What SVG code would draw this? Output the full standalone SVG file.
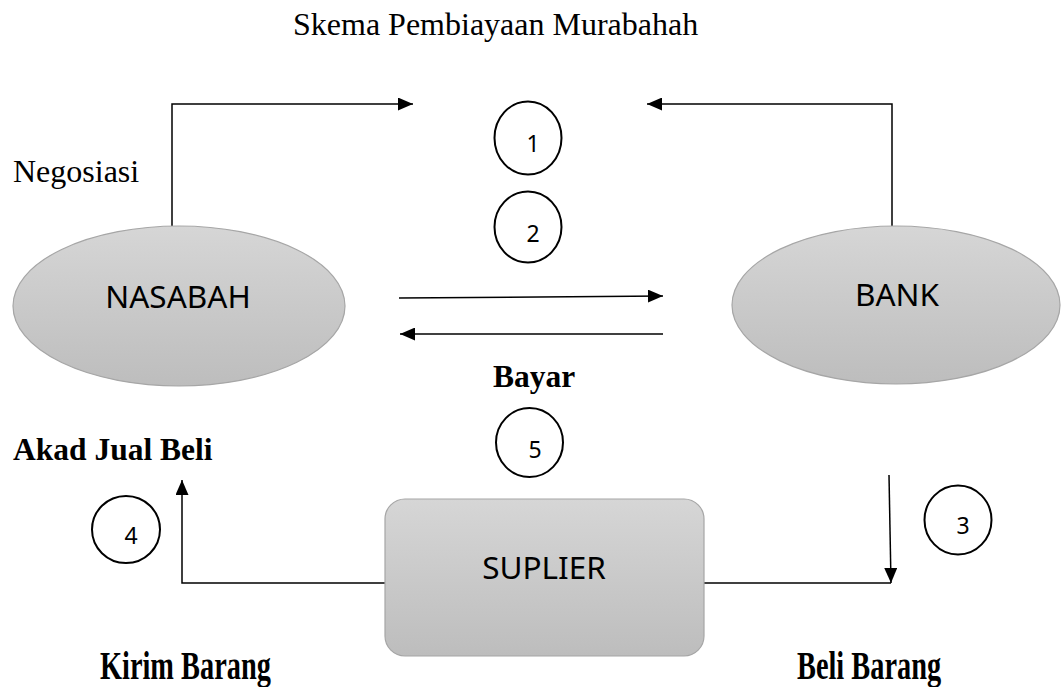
<svg xmlns="http://www.w3.org/2000/svg" width="1063" height="687" viewBox="0 0 1063 687">
<style>
.serif{font-family:"Liberation Serif","Times New Roman",serif;font-size:32px;fill:#000}
.bold{font-weight:bold;font-size:31.5px}
.node{font-family:"Noto Sans","Open Sans",sans-serif;font-size:31.5px;fill:#000}
.num{font-family:"Noto Sans","Open Sans",sans-serif;font-size:23px;fill:#000}
.shape{stroke:#a6a6a6;stroke-width:1.2;fill:url(#g)}
.circ{fill:none;stroke:#000;stroke-width:2}
.con{fill:none;stroke:#000;stroke-width:1.5}
</style>
<defs>
<linearGradient id="g" x1="0" y1="0" x2="0" y2="1">
<stop offset="0" stop-color="#d6d6d6"/>
<stop offset="1" stop-color="#bdbdbd"/>
</linearGradient>
<marker id="ah" viewBox="0 0 15 13" refX="15" refY="6.5" markerWidth="15" markerHeight="13" markerUnits="userSpaceOnUse" orient="auto">
<path d="M0,0 L15,6.5 L0,13 z" fill="#000"/>
</marker>
</defs>
<rect width="1063" height="687" fill="#fff"/>
<text class="serif" x="293" y="35">Skema Pembiayaan Murabahah</text>
<g id="connectors">
<path class="con" d="M172,226 V104 H413" marker-end="url(#ah)"/>
<path class="con" d="M892,226 V104 H647" marker-end="url(#ah)"/>
<path class="con" d="M399,298 L663,296" marker-end="url(#ah)"/>
<path class="con" d="M663,334 L400,334" marker-end="url(#ah)"/>
<path class="con" d="M385,583 H182 V480" marker-end="url(#ah)"/>
<path class="con" d="M704,583 H891"/>
<path class="con" d="M889,475 L891,583" marker-end="url(#ah)"/>
</g>
<g id="nasabah">
<ellipse class="shape" cx="179" cy="306" rx="166" ry="80"/>
<text class="node" x="178" y="308" text-anchor="middle">NASABAH</text>
</g>
<g id="bank">
<ellipse class="shape" cx="896" cy="305" rx="164" ry="79"/>
<text class="node" x="897" y="306" text-anchor="middle">BANK</text>
</g>
<g id="suplier">
<rect class="shape" x="385" y="499" width="319" height="157" rx="20"/>
<text class="node" x="544" y="579" text-anchor="middle">SUPLIER</text>
</g>
<g id="step1">
<ellipse class="circ" cx="528" cy="138" rx="33.5" ry="36.5"/>
<text class="num" x="533" y="152" text-anchor="middle">1</text>
</g>
<g id="step2">
<ellipse class="circ" cx="528" cy="227" rx="33.5" ry="35.5"/>
<text class="num" x="533" y="242" text-anchor="middle">2</text>
</g>
<g id="step3">
<ellipse class="circ" cx="958" cy="520" rx="33.5" ry="34.5"/>
<text class="num" x="963" y="534" text-anchor="middle">3</text>
</g>
<g id="step4">
<ellipse class="circ" cx="126" cy="529.5" rx="34" ry="33.5"/>
<text class="num" x="131" y="544" text-anchor="middle">4</text>
</g>
<g id="step5">
<ellipse class="circ" cx="529.5" cy="442.5" rx="33.5" ry="34.5"/>
<text class="num" x="535" y="458" text-anchor="middle">5</text>
</g>
<g id="labels">
<text class="serif" x="13" y="182">Negosiasi</text>
<text class="serif bold" x="534" y="387" text-anchor="middle">Bayar</text>
<text class="serif bold" x="13" y="460">Akad Jual Beli</text>
<text class="serif bold" x="0" y="0" transform="translate(100,679) scale(0.9,1.25)">Kirim Barang</text>
<text class="serif bold" x="0" y="0" transform="translate(797,679) scale(0.9,1.25)">Beli Barang</text>
</g>
</svg>
